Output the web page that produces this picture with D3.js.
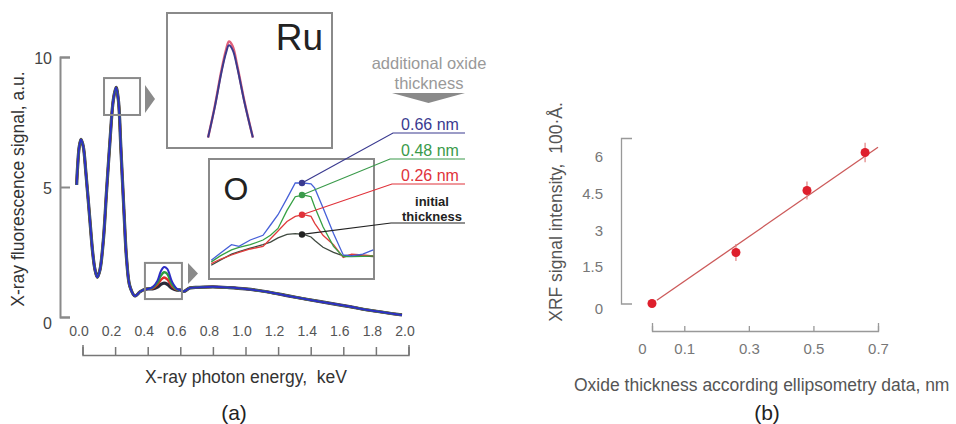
<!DOCTYPE html>
<html>
<head>
<meta charset="utf-8">
<script src="https://cdn.jsdelivr.net/npm/d3@7"></script>
<style>
  body { margin: 0; background: #fff; }
  text { font-family: "Liberation Sans", Arial, sans-serif; }
</style>
</head>
<body>
<div id="chart"></div>
<script>
// ---------- data (a): XRF spectrum ----------
// common part of the spectrum, keV / a.u.
var baseEnergy = [-0.036, -0.03, -0.02, -0.009, 0.005, 0.021, 0.042, 0.063, 0.077, 0.091, 0.107, 0.128,
  0.148, 0.169, 0.189, 0.206, 0.220, 0.236, 0.255, 0.271, 0.291, 0.322, 0.353, 0.38,
  0.62, 0.66, 0.72, 0.80, 0.90, 1.00, 1.13, 1.29, 1.46, 1.62, 1.78, 1.96];
var baseSignal = [5.08, 5.78, 6.55, 6.83, 6.55, 5.53, 3.99, 2.45, 1.81, 1.53, 1.81, 2.96,
  4.88, 6.81, 8.35, 8.83, 8.35, 6.42, 3.99, 2.19, 1.17, 0.81, 0.97, 1.06,
  0.98, 1.12, 1.14, 1.16, 1.13, 1.08, 0.97, 0.78, 0.59, 0.42, 0.24, 0.08];

// oxygen K peak region, one array per sample
var oEnergy = [0.40, 0.43, 0.46, 0.48, 0.50, 0.52, 0.55, 0.58, 0.60];
var oInitial = [1.08, 1.08, 1.15, 1.25, 1.30, 1.26, 1.10, 1.03, 1.04];
var o026 = [1.08, 1.10, 1.25, 1.42, 1.52, 1.45, 1.18, 1.05, 1.04];
var o048 = [1.08, 1.13, 1.32, 1.58, 1.72, 1.66, 1.25, 1.06, 1.04];
var o066 = [1.08, 1.15, 1.40, 1.75, 1.92, 1.85, 1.35, 1.08, 1.04];

// Ru inset (zoom of the Ru peak)
var ruInsetEnergy = [0.187, 0.196, 0.205, 0.211, 0.215, 0.220, 0.226, 0.236, 0.247];
var ruInsetBlue = [7.88, 8.20, 8.57, 8.77, 8.85, 8.80, 8.62, 8.24, 7.88];
var ruInsetRed = [7.88, 8.21, 8.59, 8.80, 8.89, 8.84, 8.64, 8.25, 7.88];

// O inset (zoom of the O peak)
var oInsetEnergy = [0.403, 0.415, 0.430, 0.440, 0.455, 0.472, 0.482, 0.492, 0.504, 0.515, 0.526,
  0.536, 0.541, 0.552, 0.566, 0.579, 0.590, 0.605, 0.619];
var oInsetInitial = [0.86, 0.92, 0.99, 1.02, 1.06, 1.10, 1.13, 1.18, 1.22, 1.23, 1.22,
  1.19, 1.15, 1.07, 1.01, 0.97, 0.98, 0.97, 0.96];
var oInset026 = [0.88, 0.93, 0.98, 1.01, 1.05, 1.08, 1.17, 1.26, 1.37, 1.43, 1.45,
  1.43, 1.35, 1.21, 1.10, 0.95, 0.99, 0.98, 0.97];
var oInset048 = [0.90, 0.97, 1.04, 1.07, 1.10, 1.155, 1.21, 1.29, 1.50, 1.66, 1.68,
  1.66, 1.54, 1.31, 1.08, 0.96, 0.96, 0.965, 0.97];
var oInset066 = [0.92, 1.00, 1.10, 1.08, 1.155, 1.21, 1.33, 1.45, 1.64, 1.82, 1.82,
  1.81, 1.76, 1.53, 1.23, 0.98, 0.97, 0.99, 1.04];
var markerEnergy = 0.524;
var markerSignal = [1.22, 1.45, 1.68, 1.82];

var seriesLabels = ["initial", "0.26 nm", "0.48 nm", "0.66 nm"];
var xTicksA = [0, 0.2, 0.4, 0.6, 0.8, 1.0, 1.2, 1.4, 1.6, 1.8, 2.0];
var yTicksA = [0, 5, 10];

// ---------- data (b): XRF intensity vs ellipsometry ----------
var thickness = [0, 0.26, 0.48, 0.66];
var intensity = [0, 2.08, 4.61, 6.16];
var intensityErr = [0, 0.35, 0.37, 0.40];
var fitX = [0.015, 0.70];
var fitY = [0.13, 6.37];
var xTicksB = [0, 0.1, 0.3, 0.5, 0.7];
var yTicksB = [0, 1.5, 3, 4.5, 6];

var lineColors = ["#2a2a3a", "#e02a2a", "#2f9e3f", "#2e2ec4"];
var insetColors = ["#404a40", "#e03c3c", "#35a043", "#4660d8"];
var leaderColors = ["#222222", "#e0323a", "#3a9a4a", "#3a3a90"];
var gray = "#8a8a8a";

var svg = d3.select("#chart").append("svg")
  .attr("width", 956)
  .attr("height", 424);

// ================= panel (a) =================
var xA = d3.scaleLinear().domain([0, 2]).range([82.5, 408.5]);
var yA = d3.scaleLinear().domain([0, 10]).range([317, 57]);

// y axis, ticks pointing inwards
var gyA = svg.append("g")
  .attr("transform", "translate(60,0)")
  .call(d3.axisLeft(yA).tickValues(yTicksA).tickSize(-10).tickPadding(8).tickFormat(d3.format("d")));
gyA.selectAll("path, line").attr("stroke", gray).attr("stroke-width", 2);
gyA.selectAll("text").style("font-size", "16px").attr("fill", "#444")
  .attr("dy", function(d) { return d == 0 ? "0.7em" : "0.4em"; });

// x tick labels
var gxA = svg.append("g")
  .attr("transform", "translate(0,323)")
  .call(d3.axisBottom(xA).tickValues(xTicksA).tickSize(0).tickPadding(3).tickFormat(d3.format(".1f")));
gxA.select(".domain").remove();
gxA.selectAll("text").style("font-size", "14px").attr("fill", "#555").attr("x", -4);

// bracket under the labels
var gbA = svg.append("g")
  .attr("transform", "translate(0,355)")
  .call(d3.axisBottom(xA).tickValues(xTicksA).tickSize(-8).tickSizeOuter(-10).tickFormat(""));
gbA.selectAll("path, line").attr("stroke", "#777").attr("stroke-width", 1.5);

svg.append("text")
  .attr("x", 246).attr("y", 383)
  .attr("text-anchor", "middle")
  .style("font-size", "17.5px").style("white-space", "pre")
  .attr("fill", "#333")
  .text("X-ray photon energy,  keV");

svg.append("text")
  .attr("transform", "translate(24,189) rotate(-90)")
  .attr("text-anchor", "middle")
  .style("font-size", "17.5px")
  .attr("fill", "#333")
  .text("X-ray fluorescence signal, a.u.");

svg.append("text")
  .attr("x", 234).attr("y", 420)
  .attr("text-anchor", "middle")
  .style("font-size", "21px").attr("fill", "#222")
  .text("(a)");

// build full spectra: common part + own O peak
function buildSpectrum(oVals) {
  var pts = [];
  baseEnergy.forEach(function(e, i) { if (e < 0.4) pts.push([e, baseSignal[i]]); });
  oEnergy.forEach(function(e, i) { pts.push([e, oVals[i]]); });
  baseEnergy.forEach(function(e, i) { if (e > 0.6) pts.push([e, baseSignal[i]]); });
  return pts;
}
var spectra = [oInitial, o026, o048, o066].map(buildSpectrum);

var lineA = d3.line()
  .x(function(d) { return xA(d[0]); })
  .y(function(d) { return yA(d[1]); })
  .curve(d3.curveCatmullRom.alpha(0.5));

var widthsA = [3.2, 2.4, 2.4, 2];
spectra.forEach(function(s, i) {
  svg.append("path")
    .datum(s)
    .attr("d", lineA)
    .attr("fill", "none")
    .attr("stroke", lineColors[i])
    .attr("stroke-width", widthsA[i])
    .attr("stroke-linejoin", "round");
});

// small boxes on the spectrum
function smallBox(e0, e1, s0, s1) {
  svg.append("rect")
    .attr("x", xA(e0)).attr("y", yA(s1))
    .attr("width", xA(e1) - xA(e0)).attr("height", yA(s0) - yA(s1))
    .attr("fill", "none").attr("stroke", gray).attr("stroke-width", 2);
}
smallBox(0.132, 0.353, 7.77, 9.19);
smallBox(0.383, 0.610, 0.69, 2.08);

function rightArrow(x, y0, y1, w) {
  svg.append("path")
    .attr("d", "M" + x + "," + y0 + "L" + (x + w) + "," + ((y0 + y1) / 2) + "L" + x + "," + y1 + "Z")
    .attr("fill", gray);
}
rightArrow(145, 85, 113, 10);
rightArrow(188, 263, 284, 10);

// ---- Ru inset ----
var xR = d3.scaleLinear().domain([0.132, 0.353]).range([167, 332]);
var yR = d3.scaleLinear().domain([7.77, 9.19]).range([148, 13]);
svg.append("rect").attr("x", 167).attr("y", 13).attr("width", 165).attr("height", 135)
  .attr("fill", "#fff").attr("stroke", gray).attr("stroke-width", 2);
var lineR = d3.line()
  .x(function(d) { return xR(d[0]); })
  .y(function(d) { return yR(d[1]); })
  .curve(d3.curveCatmullRom.alpha(0.5));
svg.append("path").datum(d3.zip(ruInsetEnergy, ruInsetRed)).attr("d", lineR)
  .attr("fill", "none").attr("stroke", "#e0607a").attr("stroke-width", 2.4);
svg.append("path").datum(d3.zip(ruInsetEnergy, ruInsetBlue)).attr("d", lineR)
  .attr("fill", "none").attr("stroke", "#3b3a8c").attr("stroke-width", 2);
svg.append("text").attr("x", 323).attr("y", 50).attr("text-anchor", "end")
  .style("font-size", "37px").attr("fill", "#222").text("Ru");

// ---- O inset ----
var xO = d3.scaleLinear().domain([0.40, 0.62]).range([209, 374]);
var yO = d3.scaleLinear().domain([0.70, 2.10]).range([279, 159]);
svg.append("rect").attr("x", 209).attr("y", 159).attr("width", 165).attr("height", 120)
  .attr("fill", "#fff").attr("stroke", gray).attr("stroke-width", 2);
svg.append("text").attr("x", 236).attr("y", 200).attr("text-anchor", "middle")
  .style("font-size", "32px").attr("fill", "#222").text("O");
var lineO = d3.line()
  .x(function(d) { return xO(d[0]); })
  .y(function(d) { return yO(d[1]); });
[oInsetInitial, oInset026, oInset048, oInset066].forEach(function(vals, i) {
  svg.append("path").datum(d3.zip(oInsetEnergy, vals)).attr("d", lineO)
    .attr("fill", "none").attr("stroke", insetColors[i]).attr("stroke-width", 1.3);
});

// leaders from the peak markers to the labels
var bendX = [391, 392, 390, 393];
var bendY = [223, 184, 159, 133];
markerSignal.forEach(function(v, i) {
  var px = xO(markerEnergy), py = yO(v);
  svg.append("path")
    .attr("d", "M" + px + "," + py + "L" + bendX[i] + "," + bendY[i] + "H465")
    .attr("fill", "none").attr("stroke", leaderColors[i]).attr("stroke-width", 1.2);
  svg.append("circle").attr("cx", px).attr("cy", py).attr("r", 3.2)
    .attr("fill", leaderColors[i]);
});
[1, 2, 3].forEach(function(i) {
  svg.append("text").attr("x", 430).attr("y", bendY[i] - 3).attr("text-anchor", "middle")
    .style("font-size", "16px").attr("fill", leaderColors[i]).text(seriesLabels[i]);
});
svg.append("text").attr("x", 432).attr("y", 206).attr("text-anchor", "middle")
  .style("font-size", "13px").style("font-weight", "bold").attr("fill", "#222").text("initial");
svg.append("text").attr("x", 432).attr("y", 221).attr("text-anchor", "middle")
  .style("font-size", "13px").style("font-weight", "bold").attr("fill", "#222").text("thickness");

svg.append("text").attr("x", 429).attr("y", 69).attr("text-anchor", "middle")
  .style("font-size", "16.5px").attr("fill", "#999").text("additional oxide");
svg.append("text").attr("x", 429).attr("y", 89).attr("text-anchor", "middle")
  .style("font-size", "16.5px").attr("fill", "#999").text("thickness");
svg.append("path").attr("d", "M392,93H465L428.5,103Z").attr("fill", gray);

// ================= panel (b) =================
var xB = d3.scaleLinear().domain([0, 0.7]).range([652, 878]);
var yB = d3.scaleLinear().domain([0, 6.75]).range([303.5, 138]);

var gyB = svg.append("g")
  .attr("transform", "translate(621,0)")
  .call(d3.axisLeft(yB).tickValues(yTicksB).tickSizeInner(0).tickSizeOuter(-11).tickPadding(18)
    .tickFormat(d3.format("~g")));
gyB.selectAll("path").attr("stroke", "#999").attr("stroke-width", 1.3);
gyB.selectAll("text").style("font-size", "15px").attr("fill", "#777")
  .attr("dy", function(d) { return d == 0 ? "0.65em" : "0.35em"; });

var gxB = svg.append("g")
  .attr("transform", "translate(0,331)")
  .call(d3.axisBottom(xB).tickValues(xTicksB).tickSizeInner(-5).tickSizeOuter(-8).tickPadding(12)
    .tickFormat(d3.format("~g")));
gxB.selectAll("path, line").attr("stroke", "#999").attr("stroke-width", 1.3);
gxB.selectAll("text").style("font-size", "15px").attr("fill", "#777")
  .attr("x", function(d) { return d == 0 ? -10 : 0; });

svg.append("text")
  .attr("transform", "translate(562,212) rotate(-90)")
  .attr("text-anchor", "middle")
  .style("font-size", "17.5px").style("white-space", "pre")
  .attr("fill", "#555")
  .text("XRF signal intensity,  100·Å.");

svg.append("text")
  .attr("x", 574).attr("y", 391)
  .style("font-size", "17.5px")
  .attr("fill", "#555")
  .text("Oxide thickness according ellipsometry data, nm");

svg.append("text")
  .attr("x", 767).attr("y", 420)
  .attr("text-anchor", "middle")
  .style("font-size", "21px").attr("fill", "#222")
  .text("(b)");

// fit line
svg.append("path")
  .datum(d3.zip(fitX, fitY))
  .attr("d", d3.line().x(function(d) { return xB(d[0]); }).y(function(d) { return yB(d[1]); }))
  .attr("stroke", "#cc5a5a").attr("stroke-width", 1.3).attr("fill", "none");

// error bars + points
var pts = d3.zip(thickness, intensity, intensityErr);
svg.selectAll(".err").data(pts).join("line")
  .attr("class", "err")
  .attr("x1", function(d) { return xB(d[0]); })
  .attr("x2", function(d) { return xB(d[0]); })
  .attr("y1", function(d) { return yB(d[1] - d[2]); })
  .attr("y2", function(d) { return yB(d[1] + d[2]); })
  .attr("stroke", "#e08080").attr("stroke-width", 1.2);
svg.selectAll(".pt").data(pts).join("circle")
  .attr("class", "pt")
  .attr("cx", function(d) { return xB(d[0]); })
  .attr("cy", function(d) { return yB(d[1]); })
  .attr("r", 4.5)
  .attr("fill", "#de1f2c");
</script>
</body>
</html>
